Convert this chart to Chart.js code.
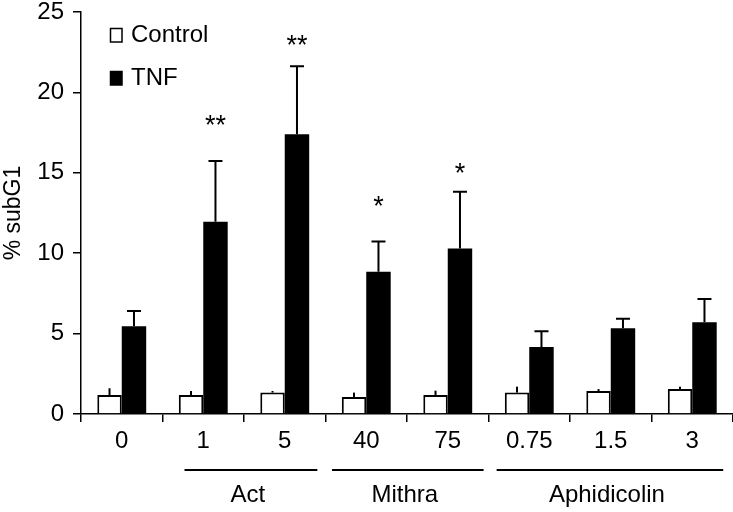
<!DOCTYPE html>
<html>
<head>
<meta charset="utf-8">
<script src="https://cdn.jsdelivr.net/npm/chart.js@4/dist/chart.umd.min.js"></script>
<style>
  html, body { margin: 0; padding: 0; background: #fff; }
  #wrap { width: 733px; height: 512px; }
</style>
</head>
<body>
<div id="wrap"><canvas id="c" width="733" height="512"></canvas></div>
<script>
// ---- data ----
const categories = ['0', '1', '5', '40', '75', '0.75', '1.5', '3'];
const controlValues = [1.18, 1.18, 1.33, 1.06, 1.18, 1.33, 1.43, 1.55];
const controlErrors = [0.42, 0.25, 0.10, 0.27, 0.27, 0.37, 0.12, 0.15];
const tnfValues = [5.45, 11.95, 17.4, 8.85, 10.3, 4.17, 5.33, 5.7];
const tnfErrors = [0.95, 3.78, 4.22, 1.87, 3.52, 0.98, 0.6, 1.45];
const significance = ['', '**', '**', '*', '*', '', '', ''];
const significanceLevel = [null, 18.3, 23.3, 13.3, 15.3, null, null, null];
const groupLabels = ['Act', 'Mithra', 'Aphidicolin'];
const groupFirst = [1, 3, 5];
const groupLast = [2, 4, 7];
const yTicks = [0, 5, 10, 15, 20, 25];
const seriesNames = ['Control', 'TNF'];

const FONT = '"Liberation Sans", Arial, Helvetica, sans-serif';

const errorBarPlugin = {
  id: 'errorBars',
  afterDatasetsDraw(chart) {
    const ctx = chart.ctx;
    const y = chart.scales.y;
    const errs = [controlErrors, tnfErrors];
    const caps = [0, 14];
    ctx.save();
    ctx.strokeStyle = '#000';
    ctx.lineWidth = 2;
    chart.data.datasets.forEach((ds, di) => {
      const meta = chart.getDatasetMeta(di);
      meta.data.forEach((bar, i) => {
        const top = y.getPixelForValue(ds.data[i] + errs[di][i]);
        const base = y.getPixelForValue(ds.data[i]);
        ctx.beginPath();
        ctx.moveTo(bar.x, base);
        ctx.lineTo(bar.x, top);
        if (caps[di] > 0) {
          ctx.moveTo(bar.x - caps[di] / 2, top);
          ctx.lineTo(bar.x + caps[di] / 2, top);
        }
        ctx.stroke();
      });
    });
    // significance stars above TNF bars
    const meta = chart.getDatasetMeta(1);
    ctx.fillStyle = '#000';
    ctx.font = '27px ' + FONT;
    ctx.textAlign = 'center';
    ctx.textBaseline = 'middle';
    significance.forEach((s, i) => {
      if (!s) return;
      ctx.fillText(s, meta.data[i].x, y.getPixelForValue(significanceLevel[i]) + 7);
    });
    ctx.restore();
  }
};

const groupPlugin = {
  id: 'groups',
  afterDraw(chart) {
    const ctx = chart.ctx;
    const x = chart.scales.x;
    const w = (x.getPixelForValue(1) - x.getPixelForValue(0));
    ctx.save();
    ctx.strokeStyle = '#000';
    ctx.fillStyle = '#000';
    ctx.lineWidth = 2;
    ctx.font = '24px ' + FONT;
    ctx.textAlign = 'center';
    ctx.textBaseline = 'middle';
    const lineY = 470;
    const labelY = 495;
    const startPad = [0.27, 0.08, 0.1];
    const endPad = [0.1, 0.06, 0.12];
    groupLabels.forEach((g, k) => {
      const x0 = x.getPixelForValue(groupFirst[k]) - w / 2 + startPad[k] * w;
      const x1 = x.getPixelForValue(groupLast[k]) + w / 2 - endPad[k] * w;
      ctx.beginPath();
      ctx.moveTo(x0, lineY);
      ctx.lineTo(x1, lineY);
      ctx.stroke();
      ctx.fillText(g, (x0 + x1) / 2 - 3, labelY);
    });
    // legend
    const boxes = [
      { y: 28, fill: '#fff' },
      { y: 71, fill: '#000' }
    ];
    ctx.textAlign = 'left';
    ctx.font = '24px ' + FONT;
    boxes.forEach((b, k) => {
      ctx.fillStyle = b.fill;
      ctx.fillRect(110, b.y, 12, 14);
      ctx.lineWidth = 1.5;
      ctx.strokeStyle = '#000';
      ctx.strokeRect(110.5, b.y + 0.5, 11.5, 13.5);
      ctx.fillStyle = '#000';
      ctx.fillText(chart.data.datasets[k].label, 131, b.y + 7);
    });
    ctx.restore();
  }
};

new Chart(document.getElementById('c'), {
  type: 'bar',
  data: {
    labels: categories,
    datasets: [
      {
        label: seriesNames[0],
        data: controlValues,
        backgroundColor: '#ffffff',
        borderColor: '#000000',
        borderWidth: 2,
        borderSkipped: 'start'
      },
      {
        label: seriesNames[1],
        data: tnfValues,
        backgroundColor: '#000000',
        borderColor: '#000000',
        borderWidth: 0
      }
    ]
  },
  options: {
    responsive: false,
    animation: false,
    devicePixelRatio: 1,
    layout: { padding: { left: 0, right: 0, top: 12, bottom: 0 } },
    plugins: {
      legend: { display: false },
      tooltip: { enabled: false }
    },
    datasets: { bar: { categoryPercentage: 0.6, barPercentage: 1.0 } },
    scales: {
      x: {
        offset: true,
        grid: { offset: true, drawOnChartArea: false, drawTicks: true, tickLength: 8, color: '#000', lineWidth: 1.5 },
        border: { display: true, color: '#000', width: 1.5 },
        ticks: { color: '#000', font: { family: FONT, size: 24 }, padding: 5, autoSkip: false, maxRotation: 0 },
        afterFit(scale) { scale.height = 98; scale.paddingLeft = 0; scale.paddingRight = 0; }
      },
      y: {
        min: 0,
        max: 25,
        afterBuildTicks(scale) { scale.ticks = yTicks.map(v => ({ value: v })); },
        grid: { drawOnChartArea: false, drawTicks: true, tickLength: 8, color: '#000', lineWidth: 1.5 },
        border: { display: true, color: '#000', width: 1.5 },
        ticks: { color: '#000', font: { family: FONT, size: 24 }, padding: 9 },
        title: { display: true, text: '% subG1', color: '#000', font: { family: FONT, size: 23 }, padding: 0 },
        afterFit(scale) { scale.width = 81; scale.paddingTop = 0; scale.paddingBottom = 0; }
      }
    }
  },
  plugins: [errorBarPlugin, groupPlugin]
});
</script>
</body>
</html>
